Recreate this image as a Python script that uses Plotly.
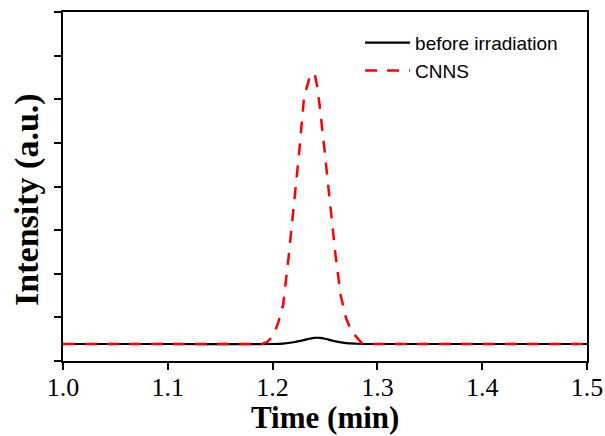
import plotly.graph_objects as go

# Data
time_before = [1.0, 1.1, 1.2, 1.21, 1.22, 1.23, 1.235, 1.24, 1.245, 1.25, 1.255, 1.26, 1.27, 1.28, 1.29, 1.3, 1.4, 1.5]
intensity_before = [0.39, 0.39, 0.39, 0.40, 0.43, 0.48, 0.51, 0.53, 0.53, 0.51, 0.48, 0.45, 0.41, 0.395, 0.39, 0.39, 0.39, 0.39]

time_cnns = [1.0, 1.05, 1.1, 1.15, 1.19, 1.195, 1.2, 1.205, 1.21, 1.215, 1.22, 1.225, 1.23, 1.235,
             1.2375, 1.24, 1.2425, 1.245, 1.25, 1.255, 1.26, 1.265, 1.27, 1.275, 1.28, 1.285, 1.29,
             1.3, 1.35, 1.4, 1.45, 1.5]
intensity_cnns = [0.39, 0.39, 0.39, 0.39, 0.39, 0.44, 0.56, 0.85, 1.28, 2.32, 3.45, 4.7, 6.05, 6.48,
                  6.57, 6.60, 6.30, 5.84, 4.73, 3.5, 2.43, 1.5, 0.99, 0.69, 0.55, 0.41, 0.39,
                  0.39, 0.39, 0.39, 0.39, 0.39]

x_ticks = [1.0, 1.1, 1.2, 1.3, 1.4, 1.5]
x_tick_labels = ["1.0", "1.1", "1.2", "1.3", "1.4", "1.5"]

x_title = "Time (min)"
y_title = "Intensity (a.u.)"

serif = "Liberation Serif, Times New Roman, serif"
sans = "Liberation Sans, Arial, sans-serif"

fig = go.Figure()
fig.add_trace(go.Scatter(x=time_before, y=intensity_before, mode="lines",
                         name="before irradiation", line=dict(color="black", width=2.2, shape="spline")))
fig.add_trace(go.Scatter(x=time_cnns, y=intensity_cnns, mode="lines",
                         name="CNNS", line=dict(color="#ff0000", width=2.5, dash="12px,10px")))

fig.update_layout(
    width=605, height=436,
    margin=dict(l=63, r=18, t=12, b=75),
    paper_bgcolor="white", plot_bgcolor="white",
    showlegend=True,
    legend=dict(x=0.567, y=0.966, xanchor="left", yanchor="top",
                font=dict(family=sans, size=19, color="black"),
                bgcolor="rgba(0,0,0,0)", borderwidth=0, tracegroupgap=0,
                itemwidth=45),
    xaxis=dict(range=[1.0, 1.5], tickvals=x_ticks, ticktext=x_tick_labels,
               automargin=False,
               showline=True, linecolor="black", linewidth=2, mirror=True,
               ticks="outside", ticklen=7, tickwidth=2, tickcolor="black",
               showgrid=False, zeroline=False,
               ticklabelstandoff=-5,
               tickfont=dict(family=serif, size=26, color="black")),
    yaxis=dict(range=[0, 8], dtick=1, tick0=0, showticklabels=False,
               automargin=False,
               showline=True, linecolor="black", linewidth=2, mirror=True,
               ticks="outside", ticklen=7, tickwidth=2, tickcolor="black",
               showgrid=False, zeroline=False),
    annotations=[
        dict(text="<b>" + x_title + "</b>", xref="paper", yref="paper",
             x=0.5, y=-0.161, xanchor="center", yanchor="middle", showarrow=False,
             font=dict(family=serif, size=31, color="black")),
        dict(text="<b>" + y_title + "</b>", xref="paper", yref="paper",
             x=-0.069, y=0.464, xanchor="center", yanchor="middle", showarrow=False,
             textangle=-90, font=dict(family=serif, size=34, color="black")),
    ],
)

fig.write_html("out.html", config={"displayModeBar": False},
               post_script="document.body.style.margin='0px';")
